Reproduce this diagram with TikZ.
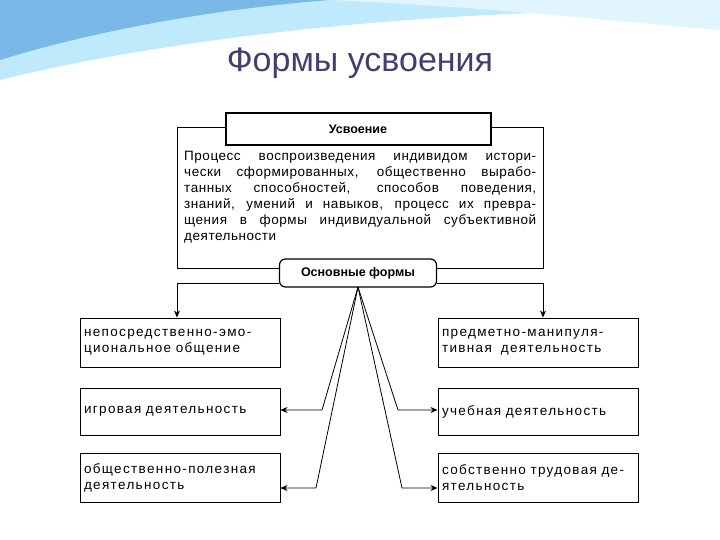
\documentclass[tikz,border=0pt]{standalone}
\usepackage{fontspec}
\setmainfont{Liberation Sans}
\newfontfamily\wide[LetterSpace=10]{Liberation Sans}
\newfontfamily\para[LetterSpace=4]{Liberation Sans}
\usetikzlibrary{arrows.meta}
\begin{document}
\begin{tikzpicture}[x=1pt,y=-1pt,
  txt/.style={font=\wide\fontsize{13.5}{16}\selectfont},
  arr/.style={-{Stealth[length=7pt,width=6pt]},line width=0.8pt},
  ln/.style={line width=0.8pt}]
\useasboundingbox (0,0) rectangle (720,540);
\fill[white] (0,0) rectangle (720,540);
% top decoration
\fill[cyan!25!white] (0,0) -- (720,0) -- (720,12) .. controls (500,5) and (200,30) .. (0,80) -- cycle;
\fill[cyan!45!white!85!blue] (0,0) -- (330,0) .. controls (200,10) and (80,35) .. (0,60) -- cycle;
\fill[cyan!12!white] (330,0) -- (720,0) -- (720,30) .. controls (600,20) and (500,8) .. (330,0) -- cycle;
\node[font=\fontsize{34}{40}\selectfont,text=blue!25!black!75] (title) at (360,63) {Формы усвоения};
% main box
\draw[line width=1pt] (177,128) rectangle (543,268);
\node[draw,line width=2pt,fill=white,minimum width=265pt,minimum height=32pt,font=\fontsize{12.5}{14}\selectfont\bfseries] (hdr) at (358,129) {Усвоение};
\node[font=\para\fontsize{13.5}{16}\selectfont,text width=352pt,align=justify,anchor=north west,inner sep=0pt] (par) at (184,151) {Процесс воспроизведения индивидом истори-\linebreak чески сформированных, общественно выраб\-о-\linebreak танных способностей, способов поведения,\linebreak знаний, умений и навыков, процесс их превра-\linebreak щения в формы индивидуальной субъективной\linebreak деятельности\par};
\node[draw,line width=1.2pt,rounded corners=6pt,fill=white,minimum width=157pt,minimum height=28pt,font=\fontsize{12.5}{14}\selectfont\bfseries] (osn) at (358,273) {Основные формы};
\coordinate (lc) at (177,283);
\coordinate (rc) at (543,283);
\coordinate (apex) at (358,287);
% boxes
\tikzset{fb/.style={draw,line width=1pt,minimum width=200pt,txt,text width=192pt,align=left,inner sep=4pt}}
\node[fb,minimum height=49pt] (b1) at (180,342.5) {непосредственно-эмо-\\ циональное общение};
\node[fb,minimum height=47pt] (b2) at (180,411.5) {игровая деятельность};
\node[fb,minimum height=49pt] (b3) at (180,477.5) {общественно-полезная\\ деятельность};
\node[fb,minimum height=49pt] (b4) at (538,342.5) {предметно-манипуля-\\ тивная\ \ деятельность};
\node[fb,minimum height=47pt] (b5) at (538,411.5) {учебная деятельность};
\node[fb,minimum height=49pt] (b6) at (538,477.5) {\mbox{собственно трудовая де-}\\ ятельность};
% connectors
\draw[ln] (osn.west |- lc) -- (lc);
\draw[ln] (osn.east |- rc) -- (rc);
\draw[arr] (lc) -- (lc |- b1.north);
\draw[arr] (rc) -- (rc |- b4.north);
\draw[arr] (apex) -- (322,410) -- (b2.east |- 0,410);
\draw[arr] (apex) -- (316,488) -- (b3.east |- 0,488);
\draw[arr] (apex) -- (398,410) -- (b5.west |- 0,410);
\draw[arr] (apex) -- (402,488) -- (b6.west |- 0,488);
\end{tikzpicture}
\end{document}
